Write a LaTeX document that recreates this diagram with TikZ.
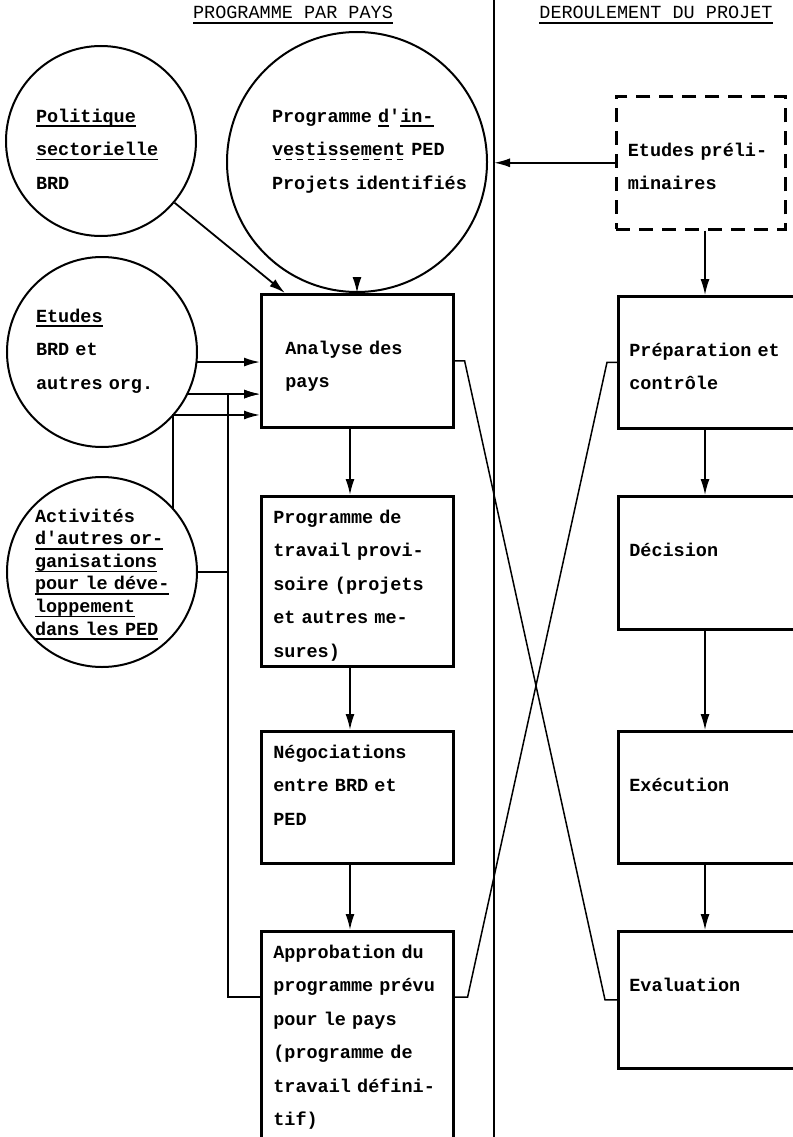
\documentclass[tikz,border=0pt]{standalone}
\usepackage{fontspec}
\setmonofont{Liberation Mono}
\renewcommand*{\familydefault}{\ttdefault}
\usetikzlibrary{arrows.meta,calc}
\newsavebox{\ulbox}
\newcommand{\ulin}[1]{\leavevmode\sbox\ulbox{#1}\rlap{\rule[-5pt]{\wd\ulbox}{1.6pt}}\usebox\ulbox}
\newcommand{\dashul}[1]{\leavevmode\sbox\ulbox{#1}\rlap{\raisebox{-5pt}{\hbox to \wd\ulbox{\xleaders\hbox to 11pt{\hss\rule{6pt}{1.6pt}\hss}\hfill}}}\usebox\ulbox}
\tikzset{
  txt/.style={font=\fontsize{18.5}{33.5}\selectfont\bfseries},
  head/.style={font=\fontsize{18.5}{33.5}\selectfont},
  flow/.style={line width=1.8pt,-{Latex[length=16pt,width=9pt]}},
  cross/.style={line width=1.5pt},
  textlow/.style={text height=60pt,text depth=#1},
  texthigh/.style={text height=27pt,text depth=#1},
}
\newcommand{\boxNode}{\node[rectangle,draw,line width=2.6pt,txt,align=left,anchor=north west,inner ysep=0pt,inner xsep=12pt,text width=168pt]}
\newcommand{\circNode}{\node[circle,draw,line width=2pt,txt,align=left,inner sep=0pt,text height=10pt]}
\begin{document}
\begin{tikzpicture}[x=1pt,y=-1pt]
    \useasboundingbox (0,0) rectangle (792,1137);

    % headings and the divider
    \node[head] (hpays) at (293,15) {\ulin{PROGRAMME PAR PAYS}};
    \node[head] (hprojet) at (656,15) {\ulin{DEROULEMENT DU PROJET}};
    \coordinate (divtop) at (494,0);
    \coordinate (divbot) at (494,1137);
    \draw[line width=2.6pt] (divtop) -- (divbot);
    \coordinate (fb) at (228,0);   % return line
    \coordinate (lcol) at (350,0);
    \coordinate (rcol) at (705,0);

    % circles
    \circNode[minimum size=190pt,text width=130pt,text depth=48pt] (pol) at (101,141) {\ulin{Politique}\\\ulin{sectorielle}\\BRD};
    \circNode[minimum size=260pt,text width=170pt,text depth=90pt] (progi) at (357,162) {Programme \ulin{d}'\ulin{in-}\\\mbox{\dashul{vestissement} PED}\\\mbox{Projets identifiés}};
    \circNode[minimum size=190pt,text width=132pt,text depth=70pt] (etudes) at (102,352) {\ulin{Etudes}\\BRD et\\autres org.};
    \circNode[minimum size=190pt,text width=134pt,text depth=110pt,font=\fontsize{18.5}{22.6}\selectfont\bfseries] (act) at (102,572) {Activités\\\ulin{d'autres or-}\\\ulin{ganisations}\\\ulin{pour le déve-}\\\ulin{loppement}\\\ulin{dans les PED}};

    % programme par pays
    \boxNode[textlow=73pt,inner xsep=24pt,text width=144pt] (analyse) at (260,293) {Analyse des\\pays};
    \boxNode[texthigh=143pt] (prov) at (260,495) {Programme de\\travail provi-\\soire (projets\\et autres me-\\sures)};
    \boxNode[texthigh=105pt] (nego) at (260,730) {Négociations\\entre BRD et\\PED};
    \boxNode[texthigh=203pt] (appro) at (260,930) {Approbation du\\programme prévu\\pour le pays\\(programme de\\travail défini-\\tif)};

    % deroulement du projet
    \boxNode[dash pattern=on 14pt off 9pt,textlow=73pt,inner xsep=11.5pt,text width=146pt] (etudesp) at (615,95) {Etudes préli-\\minaires};
    \boxNode[textlow=72pt,inner xsep=11pt,text width=170pt] (prep) at (617,295) {Préparation et\\contrôle};
    \boxNode[textlow=73pt,inner xsep=11pt,text width=170pt] (dec) at (617,495) {Décision};
    \boxNode[textlow=72pt,inner xsep=11pt,text width=170pt] (exec) at (617,730) {Exécution};
    \boxNode[textlow=77pt,inner xsep=11pt,text width=170pt] (eval) at (617,930) {Evaluation};

    % inputs to the country analysis
    \draw[flow] (pol.-40) -- ([xshift=25pt]analyse.north west);
    \draw[flow] ($(progi.south)+(0,-14)$) -- (progi.south |- analyse.north);
    \draw[flow] (etudes.-6) -- (analyse.west |- etudes.-6);
    \draw[flow] (etudes.-26) -- (analyse.west |- etudes.-26);
    \draw[flow] (act.42.5) |- (analyse.west |- etudes.-41.5);
    \draw[line width=1.8pt] (act.east) -- (act.east -| fb);
    \draw[flow] ([yshift=-67pt]appro.north west) -| (fb |- etudes.-26) -- (analyse.west |- etudes.-26);

    \draw[flow] (analyse.south -| lcol) -- (prov.north -| lcol);
    \draw[flow] (prov.south -| lcol) -- (nego.north -| lcol);
    \draw[flow] (nego.south -| lcol) -- (appro.north -| lcol);

    \draw[flow] (etudesp.west) -- (etudesp.west -| divtop);
    \draw[flow,line width=1.5pt] (etudesp.south -| rcol) -- (prep.north -| rcol);
    \draw[flow,line width=1.5pt] (prep.south -| rcol) -- (dec.north -| rcol);
    \draw[flow,line width=1.5pt] (dec.south -| rcol) -- (exec.north -| rcol);
    \draw[flow,line width=1.5pt] (exec.south -| rcol) -- (eval.north -| rcol);

    % the two crossing lines
    \draw[cross] (analyse.east) -- ++(10,0) -- ([xshift=-12pt]eval.west) -- (eval.west);
    \draw[cross] ([yshift=-67pt]appro.north east) -- ++(13,0) -- ([xshift=-10pt]prep.west) -- (prep.west);

\end{tikzpicture}
\end{document}
